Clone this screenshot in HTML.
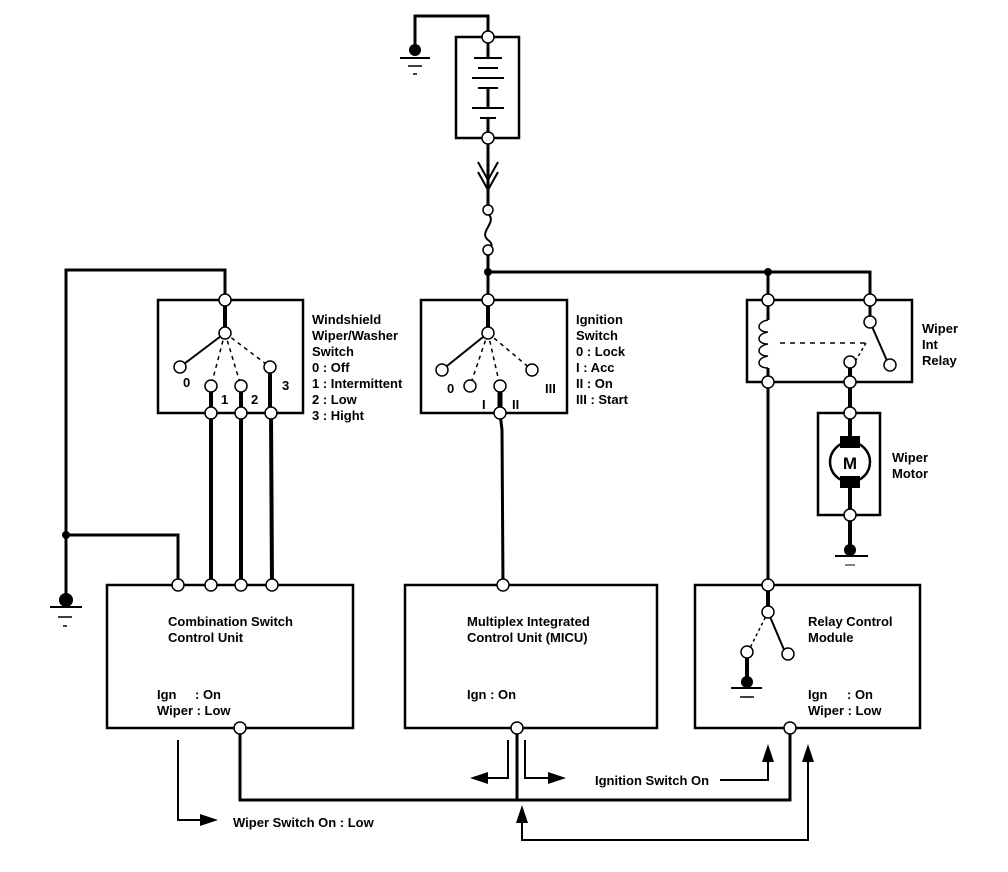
<!DOCTYPE html>
<html><head><meta charset="utf-8"><style>
html,body{margin:0;padding:0;background:#fff;}
svg{display:block;}
text{font-family:"Liberation Sans",sans-serif;font-weight:bold;font-size:13px;fill:#000;}
</style></head><body>
<svg width="1008" height="872" viewBox="0 0 1008 872" xmlns="http://www.w3.org/2000/svg">
<g fill="none" stroke="#000" stroke-width="3">
<!-- battery -->
<rect x="456" y="37" width="63" height="101" stroke-width="2.5"/>
<polyline points="488,37 488,16 415,16 415,50"/>
<line x1="400" y1="58" x2="430" y2="58" stroke-width="2"/>
<line x1="408" y1="66" x2="422" y2="66" stroke-width="1.5"/>
<line x1="413" y1="74" x2="417" y2="74" stroke-width="1.5"/>
<line x1="488" y1="37" x2="488" y2="58"/>
<line x1="474" y1="58" x2="502" y2="58" stroke-width="2"/>
<line x1="478" y1="68" x2="498" y2="68" stroke-width="2"/>
<line x1="472" y1="78" x2="504" y2="78" stroke-width="2"/>
<line x1="478" y1="88" x2="498" y2="88" stroke-width="2"/>
<line x1="488" y1="88" x2="488" y2="108"/>
<line x1="472" y1="108" x2="504" y2="108" stroke-width="2"/>
<line x1="480" y1="118" x2="496" y2="118" stroke-width="2"/>
<line x1="488" y1="118" x2="488" y2="138"/>
<line x1="488" y1="138" x2="488" y2="210"/>
<polyline points="478,162 488,180 498,162" stroke-width="2"/>
<polyline points="478,172 488,190 498,172" stroke-width="2"/>
<path d="M488,214 C498,222 478,232 488,240 C496,246 488,250 488,250" stroke-width="2"/>
<line x1="488" y1="250" x2="488" y2="300"/>
<polyline points="488,272 870,272 870,300"/>
<line x1="768" y1="272" x2="768" y2="300"/>
<!-- left wire -->
<polyline points="225,300 225,270 66,270 66,600"/>
<polyline points="66,535 178,535 178,585"/>
<line x1="50" y1="607" x2="82" y2="607" stroke-width="2"/>
<line x1="58" y1="617" x2="72" y2="617" stroke-width="1.5"/>
<line x1="63" y1="626" x2="67" y2="626" stroke-width="1.5"/>
<!-- windshield switch -->
<rect x="158" y="300" width="145" height="113" stroke-width="2.5"/>
<line x1="225" y1="300" x2="225" y2="333" stroke-width="4"/>
<line x1="225" y1="333" x2="180" y2="367" stroke-width="2"/>
<g stroke-dasharray="4,4" stroke-width="1.5">
<line x1="225" y1="333" x2="211" y2="386"/>
<line x1="225" y1="333" x2="241" y2="386"/>
<line x1="225" y1="333" x2="270" y2="367"/>
</g>
<line x1="211" y1="386" x2="211" y2="585" stroke-width="4"/>
<line x1="241" y1="386" x2="241" y2="585" stroke-width="4"/>
<line x1="270" y1="367" x2="270" y2="413" stroke-width="4"/>
<line x1="271" y1="413" x2="272" y2="585" stroke-width="4"/>
<!-- ignition switch -->
<rect x="421" y="300" width="146" height="113" stroke-width="2.5"/>
<line x1="488" y1="300" x2="488" y2="333" stroke-width="4"/>
<line x1="488" y1="333" x2="442" y2="370" stroke-width="2"/>
<g stroke-dasharray="4,4" stroke-width="1.5">
<line x1="488" y1="333" x2="470" y2="386"/>
<line x1="488" y1="333" x2="500" y2="386"/>
<line x1="488" y1="333" x2="532" y2="370"/>
</g>
<line x1="500" y1="386" x2="500" y2="413" stroke-width="5"/>
<polyline points="500,413 502,430 503,585"/>
<!-- relay -->
<rect x="747" y="300" width="165" height="82" stroke-width="2.5"/>
<line x1="768" y1="300" x2="768" y2="320"/>
<path d="M768,320 c-12,2 -12,12 0,12 c-12,2 -12,12 0,12 c-12,2 -12,12 0,12 c-12,2 -12,12 0,12" stroke-width="1.5"/>
<line x1="768" y1="368" x2="768" y2="585"/>
<line x1="780" y1="343" x2="866" y2="343" stroke-dasharray="5,5" stroke-width="1.5"/>
<line x1="866" y1="343" x2="856" y2="360" stroke-dasharray="3,3" stroke-width="1.5"/>
<line x1="870" y1="300" x2="870" y2="322" stroke-width="3"/>
<line x1="870" y1="322" x2="888" y2="363" stroke-width="2"/>
<line x1="850" y1="362" x2="850" y2="413" stroke-width="4"/>
<!-- motor -->
<rect x="818" y="413" width="62" height="102" stroke-width="2.5"/>
<line x1="850" y1="413" x2="850" y2="436" stroke-width="4"/>
<line x1="850" y1="488" x2="850" y2="550" stroke-width="4"/>
<circle cx="850" cy="462" r="20" stroke-width="2.5"/>
<line x1="835" y1="556" x2="868" y2="556" stroke-width="2"/>
<line x1="845" y1="565" x2="855" y2="565" stroke-width="1"/>
<!-- boxes -->
<rect x="107" y="585" width="246" height="143" stroke-width="2.5"/>
<rect x="405" y="585" width="252" height="143" stroke-width="2.5"/>
<rect x="695" y="585" width="225" height="143" stroke-width="2.5"/>
<!-- RCM internals -->
<line x1="768" y1="585" x2="768" y2="612" stroke-width="4"/>
<line x1="768" y1="612" x2="785" y2="652" stroke-width="2"/>
<line x1="768" y1="612" x2="750" y2="648" stroke-dasharray="3,3" stroke-width="1.5"/>
<line x1="747" y1="652" x2="747" y2="682" stroke-width="4"/>
<line x1="731" y1="688" x2="762" y2="688" stroke-width="2"/>
<line x1="740" y1="697" x2="754" y2="697" stroke-width="1.5"/>
<!-- bottom wiring -->
<polyline points="240,728 240,800 790,800 790,728"/>
<line x1="517" y1="728" x2="517" y2="800"/>
<polyline points="508,740 508,778 485,778" stroke-width="2"/>
<polyline points="525,740 525,778 550,778" stroke-width="2"/>
<polyline points="720,780 768,780 768,760" stroke-width="2"/>
<polyline points="522,820 522,840 808,840 808,760" stroke-width="2"/>
<polyline points="178,740 178,820 200,820" stroke-width="2"/>
</g>
<!-- arrowheads -->
<g fill="#000">
<polygon points="470,778 488,772 488,784"/>
<polygon points="566,778 548,772 548,784"/>
<polygon points="768,744 762,762 774,762"/>
<polygon points="522,805 516,823 528,823"/>
<polygon points="808,744 802,762 814,762"/>
<polygon points="218,820 200,814 200,826"/>
<circle cx="415" cy="50" r="6"/>
<circle cx="488" cy="272" r="4"/>
<circle cx="768" cy="272" r="4"/>
<circle cx="66" cy="535" r="4"/>
<circle cx="66" cy="600" r="7"/>
<circle cx="850" cy="550" r="6"/>
<circle cx="747" cy="682" r="6"/>
<rect x="840" y="436" width="20" height="12"/>
<rect x="840" y="476" width="20" height="12"/>
</g>
<g fill="#fff" stroke="#000" stroke-width="1.5">
<circle cx="488" cy="37" r="6"/><circle cx="488" cy="138" r="6"/>
<circle cx="488" cy="210" r="5"/><circle cx="488" cy="250" r="5"/>
<circle cx="225" cy="300" r="6"/><circle cx="225" cy="333" r="6"/>
<circle cx="180" cy="367" r="6"/><circle cx="211" cy="386" r="6"/><circle cx="241" cy="386" r="6"/><circle cx="270" cy="367" r="6"/>
<circle cx="211" cy="413" r="6"/><circle cx="241" cy="413" r="6"/><circle cx="271" cy="413" r="6"/>
<circle cx="488" cy="300" r="6"/><circle cx="488" cy="333" r="6"/>
<circle cx="442" cy="370" r="6"/><circle cx="470" cy="386" r="6"/><circle cx="500" cy="386" r="6"/><circle cx="532" cy="370" r="6"/>
<circle cx="500" cy="413" r="6"/>
<circle cx="768" cy="300" r="6"/><circle cx="870" cy="300" r="6"/>
<circle cx="870" cy="322" r="6"/><circle cx="890" cy="365" r="6"/><circle cx="850" cy="362" r="6"/>
<circle cx="768" cy="382" r="6"/><circle cx="850" cy="382" r="6"/>
<circle cx="850" cy="413" r="6"/><circle cx="850" cy="515" r="6"/>
<circle cx="178" cy="585" r="6"/><circle cx="211" cy="585" r="6"/><circle cx="241" cy="585" r="6"/><circle cx="272" cy="585" r="6"/>
<circle cx="240" cy="728" r="6"/>
<circle cx="503" cy="585" r="6"/><circle cx="517" cy="728" r="6"/>
<circle cx="768" cy="585" r="6"/><circle cx="768" cy="612" r="6"/><circle cx="788" cy="654" r="6"/><circle cx="747" cy="652" r="6"/>
<circle cx="790" cy="728" r="6"/>
</g>
<text x="850" y="469" text-anchor="middle" style="font-size:17px">M</text>
<text x="312" y="324">Windshield</text>
<text x="312" y="340">Wiper/Washer</text>
<text x="312" y="356">Switch</text>
<text x="312" y="372">0  : Off</text>
<text x="312" y="388">1  : Intermittent</text>
<text x="312" y="404">2  : Low</text>
<text x="312" y="420">3  : Hight</text>
<text x="183" y="387">0</text><text x="221" y="404">1</text><text x="251" y="404">2</text><text x="282" y="390">3</text>
<text x="576" y="324">Ignition</text>
<text x="576" y="340">Switch</text>
<text x="576" y="356">0  : Lock</text>
<text x="576" y="372">I   : Acc</text>
<text x="576" y="388">II  : On</text>
<text x="576" y="404">III : Start</text>
<text x="447" y="393">0</text><text x="482" y="409">I</text><text x="512" y="409">II</text><text x="545" y="393">III</text>
<text x="922" y="333">Wiper</text>
<text x="922" y="349">Int</text>
<text x="922" y="365">Relay</text>
<text x="892" y="462">Wiper</text>
<text x="892" y="478">Motor</text>
<text x="168" y="626">Combination Switch</text>
<text x="168" y="642">Control Unit</text>
<text x="157" y="699">Ign</text><text x="195" y="699">: On</text>
<text x="157" y="715">Wiper : Low</text>
<text x="467" y="626">Multiplex Integrated</text>
<text x="467" y="642">Control Unit (MICU)</text>
<text x="467" y="699">Ign : On</text>
<text x="808" y="626">Relay Control</text>
<text x="808" y="642">Module</text>
<text x="808" y="699">Ign</text><text x="847" y="699">: On</text>
<text x="808" y="715">Wiper : Low</text>
<text x="595" y="785">Ignition Switch On</text>
<text x="233" y="827">Wiper Switch On : Low</text>
</svg>
</body></html>
